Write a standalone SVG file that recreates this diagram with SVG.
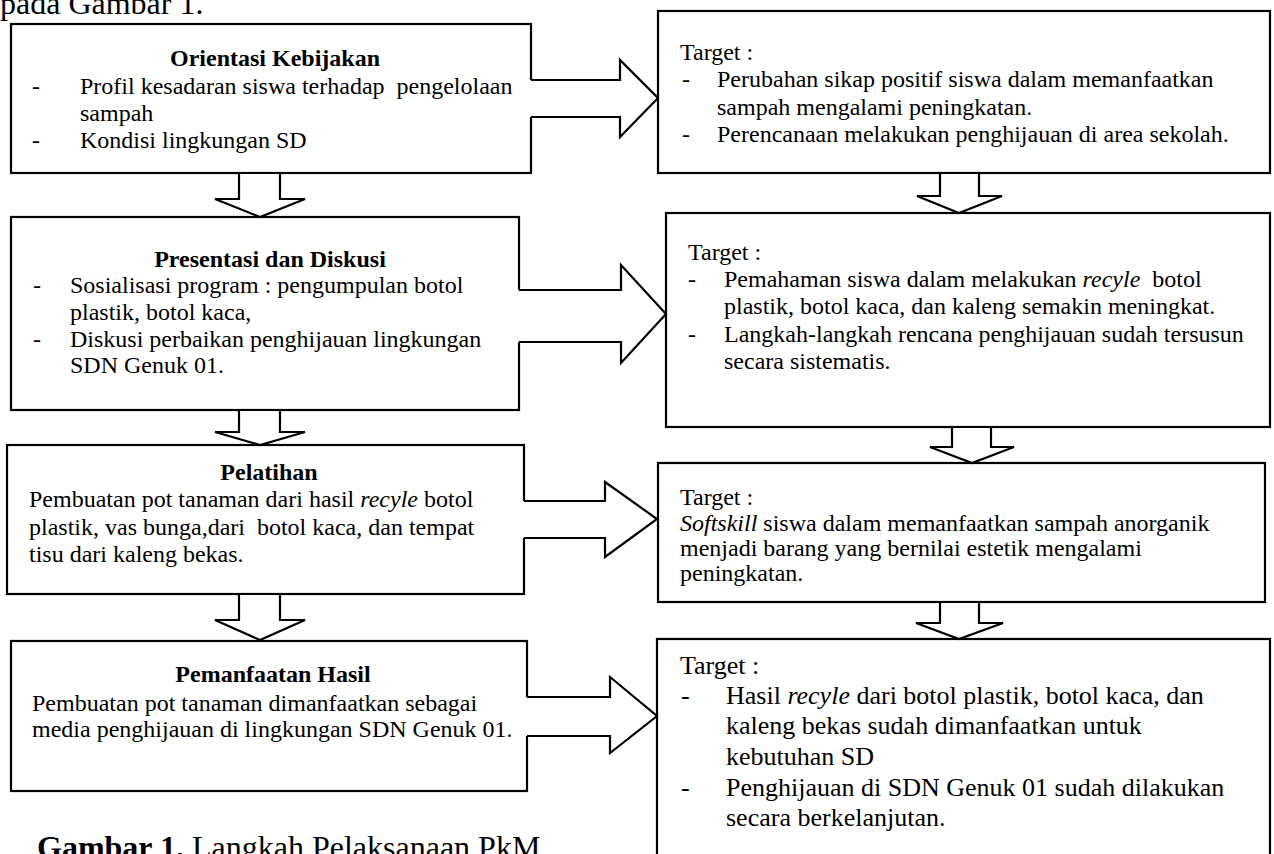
<svg xmlns="http://www.w3.org/2000/svg" width="1274" height="854" viewBox="0 0 1274 854">
<style>
.box{fill:#fff;stroke:#000;stroke-width:2.2}
.arr{fill:#fff;stroke:#000;stroke-width:2.2;stroke-linejoin:miter}
.fillw{fill:#fff;stroke:none}
.line{fill:none;stroke:#000;stroke-width:2.2;stroke-linejoin:miter}
text{font-family:"Liberation Serif","Times New Roman",serif;font-size:24px;fill:#000;white-space:pre}
.b{font-weight:bold}
.i{font-style:italic}
.c{text-anchor:middle}
.big{font-size:32px}
.m{font-size:26px}
</style>
<rect width="1274" height="854" fill="#fff"/>
<text class="big" x="0" y="14">pada Gambar 1.</text>

<g id="n-orientasi">
<rect class="box" x="11" y="24" width="520" height="149"/>
<text class="b c" x="275" y="66">Orientasi Kebijakan</text>
<text x="32" y="94">-</text><text x="80" y="94" xml:space="preserve">Profil kesadaran siswa terhadap  pengelolaan</text>
<text x="80" y="121">sampah</text>
<text x="32" y="148">-</text><text x="80" y="148">Kondisi lingkungan SD</text>
</g>

<g id="n-presentasi">
<rect class="box" x="11" y="217" width="508" height="193"/>
<text class="b c" x="270" y="267">Presentasi dan Diskusi</text>
<text x="33" y="293">-</text><text x="70" y="293">Sosialisasi program : pengumpulan botol</text>
<text x="70" y="320">plastik, botol kaca,</text>
<text x="33" y="347">-</text><text x="70" y="347">Diskusi perbaikan penghijauan lingkungan</text>
<text x="70" y="373">SDN Genuk 01.</text>
</g>

<g id="n-pelatihan">
<rect class="box" x="7" y="445" width="517" height="149"/>
<text class="b c" x="269" y="480">Pelatihan</text>
<text x="29" y="507">Pembuatan pot tanaman dari hasil <tspan class="i">recyle</tspan> botol</text>
<text x="29" y="535" xml:space="preserve">plastik, vas bunga,dari  botol kaca, dan tempat</text>
<text x="29" y="562">tisu dari kaleng bekas.</text>
</g>

<g id="n-pemanfaatan">
<rect class="box" x="11" y="641" width="516" height="150"/>
<text class="b c" x="273" y="682">Pemanfaatan Hasil</text>
<text x="32" y="711">Pembuatan pot tanaman dimanfaatkan sebagai</text>
<text x="32" y="737">media penghijauan di lingkungan SDN Genuk 01.</text>
</g>

<g id="n-target1">
<rect class="box" x="658" y="11" width="612" height="162"/>
<text x="680" y="60">Target :</text>
<text x="682" y="87">-</text><text x="717" y="87">Perubahan sikap positif siswa dalam memanfaatkan</text>
<text x="717" y="115">sampah mengalami peningkatan.</text>
<text x="682" y="142">-</text><text x="717" y="142">Perencanaan melakukan penghijauan di area sekolah.</text>
</g>

<g id="n-target2">
<rect class="box" x="666" y="213" width="604" height="214"/>
<text x="688" y="260">Target :</text>
<text x="688" y="287">-</text><text x="724" y="287" xml:space="preserve">Pemahaman siswa dalam melakukan <tspan class="i">recyle</tspan>  botol</text>
<text x="724" y="314">plastik, botol kaca, dan kaleng semakin meningkat.</text>
<text x="688" y="342">-</text><text x="724" y="342">Langkah-langkah rencana penghijauan sudah tersusun</text>
<text x="724" y="369">secara sistematis.</text>
</g>

<g id="n-target3">
<rect class="box" x="658" y="463" width="607" height="139"/>
<text x="680" y="505">Target :</text>
<text x="680" y="531"><tspan class="i">Softskill</tspan> siswa dalam memanfaatkan sampah anorganik</text>
<text x="680" y="556">menjadi barang yang bernilai estetik mengalami</text>
<text x="680" y="581">peningkatan.</text>
</g>

<g id="n-target4">
<rect class="box" x="657" y="639" width="613" height="240"/>
<text class="m" x="680" y="674">Target :</text>
<text class="m" x="681" y="704">-</text><text class="m" x="726" y="704">Hasil <tspan class="i">recyle</tspan> dari botol plastik, botol kaca, dan</text>
<text class="m" x="726" y="734">kaleng bekas sudah dimanfaatkan untuk</text>
<text class="m" x="726" y="765">kebutuhan SD</text>
<text class="m" x="681" y="796">-</text><text class="m" x="726" y="796">Penghijauan di SDN Genuk 01 sudah dilakukan</text>
<text class="m" x="726" y="826">secara berkelanjutan.</text>
</g>

<g id="connectors">
<!-- right arrows -->
<polygon class="fillw" points="527,80 620,80 620,60 658,98 620,137 620,117 527,117"/>
<polyline class="line" points="531,80 620,80 620,60 658,98 620,137 620,117 531,117"/>
<polygon class="fillw" points="515,290 621,290 621,265 666,314 621,363 621,342 515,342"/>
<polyline class="line" points="519,290 621,290 621,265 666,314 621,363 621,342 519,342"/>
<polygon class="fillw" points="520,501 605,501 605,482 657,519 605,557 605,538 520,538"/>
<polyline class="line" points="524,501 605,501 605,482 657,519 605,557 605,538 524,538"/>
<polygon class="fillw" points="523,697 610,697 610,677 657,716 610,753 610,736 523,736"/>
<polyline class="line" points="527,697 610,697 610,677 657,716 610,753 610,736 527,736"/>
<!-- down arrows -->
<polygon class="arr" points="239,173 239,199 215,199 260,217 305,199 280,199 280,173"/>
<polygon class="arr" points="239,410 239,432 215,432 260,445 305,432 280,432 280,410"/>
<polygon class="arr" points="239,594 239,620 215,620 260,640 305,620 280,620 280,594"/>
<polygon class="arr" points="940,173 940,196 917,196 959,213 1002,196 979,196 979,173"/>
<polygon class="arr" points="952,427 952,447 930,447 972,463 1014,447 991,447 991,427"/>
<polygon class="arr" points="940,602 940,623 916,623 959,639 1003,623 979,623 979,602"/>
</g>

<text class="big" x="37" y="858"><tspan class="b">Gambar 1.</tspan> Langkah Pelaksanaan PkM</text>
</svg>
